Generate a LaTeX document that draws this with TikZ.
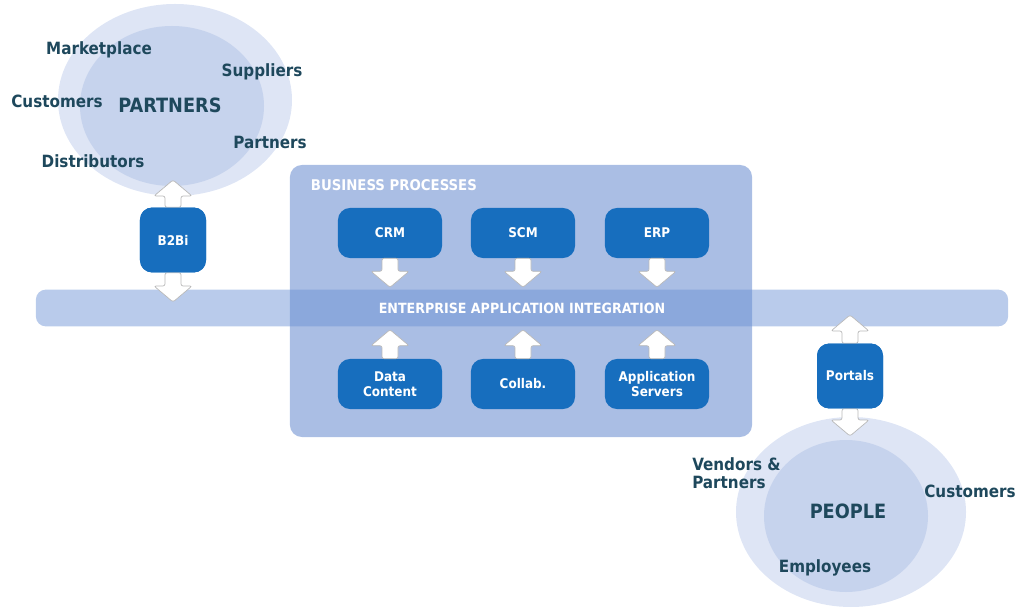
\documentclass[tikz,border=0pt]{standalone}
\usepackage{fontspec}
\setmainfont{DejaVu Sans Condensed}
\usetikzlibrary{calc,positioning}

\definecolor{procblue}{RGB}{23,110,190}
\definecolor{darkteal}{RGB}{30,72,92}
\definecolor{outerring}{RGB}{222,229,245}
\definecolor{innerring}{RGB}{198,211,237}
\definecolor{bpfill}{RGB}{170,190,228}
\definecolor{busfill}{RGB}{106,145,213}

\tikzset{
  procbox/.style={fill=procblue, rounded corners=0.3cm, minimum width=2.6cm,
    minimum height=1.25cm, text=white, font=\bfseries\fontsize{9.5}{10.5}\selectfont,
    align=center, inner sep=0pt},
  gatebox/.style={procbox, minimum width=1.65cm, minimum height=1.62cm},
  blockarrow/.style={fill=white, draw=gray!55, line width=0.5pt, rounded corners=1.5pt},
  grouptext/.style={text=darkteal, font=\bfseries\fontsize{12}{13}\selectfont, align=left},
  bigtext/.style={text=darkteal, font=\bfseries\fontsize{14}{15}\selectfont}
}

% block arrow: #1 tail, #2 tip, #3 = 1 (down) or -1 (up)
\newcommand\blockarrow[3]{%
  \draw[blockarrow] ($(#1)+(-8,0)$) -- ($(#2)+(-8,-16*#3)$) -- ($(#2)+(-19,-16*#3)$)
    -- (#2) -- ($(#2)+(19,-16*#3)$) -- ($(#2)+(8,-16*#3)$) -- ($(#1)+(8,0)$) -- cycle;}

\begin{document}
\begin{tikzpicture}[x=0.025cm,y=-0.025cm]
\useasboundingbox (0,0) rectangle (1024,609);

% partner and people rings
\fill[outerring] (175,100) ellipse (117 and 96);
\fill[innerring] (172,106) ellipse (92 and 80);
\fill[outerring] (851,512) ellipse (115 and 95);
\fill[innerring] (846,516) ellipse (82 and 76);

% business processes panel
\node[fill=bpfill, rounded corners=0.3cm, minimum width=11.55cm, minimum height=6.8cm,
  inner sep=0pt] (bp) at (521,301) {};
\node[anchor=west, text=white, font=\bfseries\fontsize{10.5}{11.5}\selectfont] (bptitle)
  at (306,185) {BUSINESS PROCESSES};

% integration bus
\node[fill=busfill, fill opacity=0.47, text opacity=1, rounded corners=0.25cm,
  minimum width=24.3cm, minimum height=0.92cm, inner sep=0pt, text=white,
  font=\bfseries\fontsize{10}{11}\selectfont] (bar) at (522,308)
  {ENTERPRISE APPLICATION INTEGRATION};

% process boxes
\node[procbox] (crm) at (390,233) {CRM};
\node[procbox] (scm) at (523,233) {SCM};
\node[procbox] (erp) at (657,233) {ERP};
\node[procbox] (data) at (390,384) {Data\\Content};
\node[procbox] (collab) at (523,384) {Collab.};
\node[procbox] (appsrv) at (657,384) {Application\\Servers};

\foreach \n in {crm,scm,erp} {
  \coordinate (\n tip) at ($(\n.south |- bar.north)+(0,-2)$);
  \blockarrow{\n.south}{\n tip}{1}
}
\foreach \n in {data,collab,appsrv} {
  \coordinate (\n tip) at ($(\n.north |- bar.south)+(0,3)$);
  \blockarrow{\n.north}{\n tip}{-1}
}

% gateways
\node[gatebox] (b2bi) at (173,240) {B2Bi};
\node[gatebox] (portals) at (850,376) {Portals};
\coordinate (b2bi up) at (173,180);
\coordinate (b2bi down) at (173,302);
\coordinate (portals up) at (850,315);
\coordinate (portals down) at (850,436);
\blockarrow{b2bi.north}{b2bi up}{-1}
\blockarrow{b2bi.south}{b2bi down}{1}
\blockarrow{portals.north}{portals up}{-1}
\blockarrow{portals.south}{portals down}{1}
\node[gatebox] at (b2bi) {B2Bi};
\node[gatebox] at (portals) {Portals};

% partner labels
\node[bigtext] (partners) at (170,105) {PARTNERS};
\node[grouptext] (market) at (99,50) {Marketplace};
\node[grouptext] (suppl) at (262,72) {Suppliers};
\node[grouptext] (cust1) at (57,101) {Customers};
\node[grouptext] (partn) at (270,142) {Partners};
\node[grouptext] (distr) at (93,161) {Distributors};

% people labels
\node[bigtext] (people) at (848,511) {PEOPLE};
\node[grouptext, anchor=west, inner sep=0pt] (vendors) at (692,473) {Vendors \&\\Partners};
\node[grouptext] (cust2) at (970,491) {Customers};
\node[grouptext] (empl) at (825,568) {Employees};
\end{tikzpicture}
\end{document}
